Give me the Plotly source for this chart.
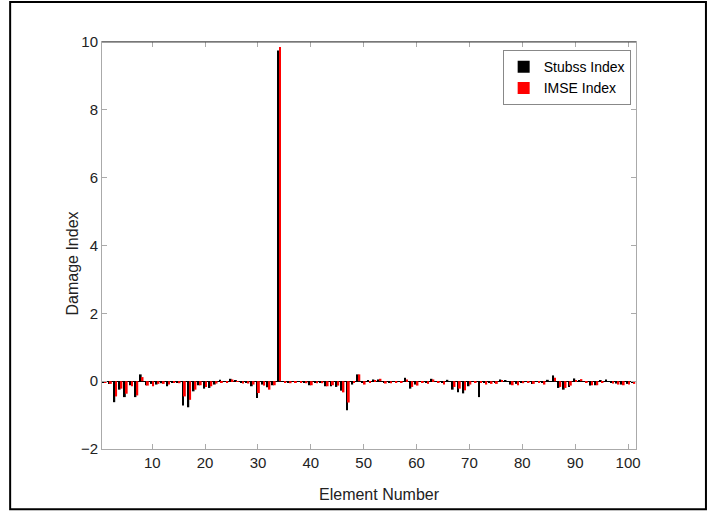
import plotly.graph_objects as go

elements = list(range(1, 102))

stubss = [-0.05, -0.08, -0.62, -0.25, -0.47, -0.12, -0.47, 0.20, -0.12, -0.08,
          -0.10, -0.06, -0.15, -0.05, -0.03, -0.72, -0.77, -0.30, -0.12, -0.22,
          -0.20, -0.10, 0.04, -0.02, 0.07, 0.01, -0.03, -0.05, -0.15, -0.50,
          -0.10, -0.18, -0.12, 9.75, -0.02, -0.03, -0.02, -0.01, -0.03, -0.12,
          -0.04, -0.03, -0.15, -0.15, -0.17, -0.28, -0.86, -0.10, 0.20, -0.03,
          0.02, 0.05, 0.05, -0.03, -0.03, -0.02, -0.01, 0.10, -0.22, -0.10,
          -0.02, -0.03, 0.07, -0.01, -0.03, 0.04, -0.25, -0.33, -0.36, -0.15,
          -0.02, -0.47, -0.04, -0.03, -0.04, 0.05, 0.03, -0.10, -0.08, -0.03,
          -0.02, -0.08, -0.01, -0.05, 0.04, 0.17, -0.20, -0.25, -0.17, 0.08,
          0.02, -0.02, -0.13, -0.12, 0.03, 0.05, -0.04, -0.07, -0.10, -0.08,
          -0.05]

imse = [-0.05, -0.08, -0.45, -0.22, -0.37, -0.15, -0.42, 0.12, -0.13, -0.15,
        -0.08, -0.08, -0.10, -0.05, -0.06, -0.45, -0.55, -0.25, -0.12, -0.17,
        -0.15, -0.07, -0.04, -0.04, 0.05, -0.02, -0.07, -0.07, -0.10, -0.35,
        -0.13, -0.25, -0.12, 9.85, -0.04, -0.06, -0.05, -0.04, -0.06, -0.12,
        -0.06, -0.06, -0.15, -0.12, -0.13, -0.33, -0.63, -0.03, 0.20, -0.10,
        -0.03, 0.03, 0.07, -0.07, -0.06, -0.04, -0.03, 0.05, -0.17, -0.13,
        -0.05, -0.08, 0.05, -0.03, -0.10, 0.00, -0.17, -0.22, -0.27, -0.10,
        -0.04, -0.05, -0.10, -0.08, -0.08, 0.01, 0.00, -0.12, -0.12, -0.06,
        -0.05, -0.08, -0.03, -0.10, 0.00, 0.10, -0.17, -0.20, -0.13, 0.03,
        0.06, -0.05, -0.12, -0.12, -0.05, 0.00, -0.07, -0.10, -0.12, -0.10,
        -0.08]

x_ticks = [10, 20, 30, 40, 50, 60, 70, 80, 90, 100]
y_ticks = [-2, 0, 2, 4, 6, 8, 10]

font_main = "Liberation Sans, Arial"

fig = go.Figure()
fig.add_trace(go.Bar(x=elements, y=stubss, name="Stubss Index",
                     marker=dict(color="black", line_width=0)))
fig.add_trace(go.Bar(x=elements, y=imse, name="IMSE Index",
                     marker=dict(color="red", line_width=0)))

fig.update_layout(
    width=709, height=511,
    margin=dict(l=102, r=73, t=42, b=62, autoexpand=False),
    paper_bgcolor="white", plot_bgcolor="white",
    barmode="group", bargap=0.3, bargroupgap=0,
    font=dict(family=font_main, size=15, color="#222"),
    legend=dict(x=0.99, y=0.98, xanchor="right", yanchor="top",
                bgcolor="white", bordercolor="#888", borderwidth=1,
                font=dict(size=14, family=font_main, color="black"),
                tracegroupgap=0, itemwidth=30),
    showlegend=True,
)

fig.update_xaxes(range=[0.5, 101.5], tickvals=x_ticks, ticks="inside",
                 ticklen=5, tickcolor="#aaa", showline=True, linecolor="#aaa",
                 linewidth=1, mirror="ticks", showgrid=False, zeroline=False,
                 tickfont=dict(family=font_main, size=15))
fig.update_yaxes(range=[-2, 10], tickvals=y_ticks, ticks="inside",
                 ticklen=5, tickcolor="#aaa", showline=True, linecolor="#aaa",
                 linewidth=1, mirror="ticks", showgrid=False,
                 zeroline=True, zerolinecolor="black", zerolinewidth=1,
                 tickfont=dict(family=font_main, size=15))

# axis titles placed where the original has them
fig.add_annotation(text="Element Number", xref="paper", yref="paper",
                   x=0.52, y=-0.113, xanchor="center", yanchor="middle",
                   showarrow=False,
                   font=dict(family=font_main, size=16, color="#222"))
fig.add_annotation(text="Damage Index", xref="paper", yref="paper",
                   x=-0.056, y=0.456, xanchor="center", yanchor="middle",
                   showarrow=False, textangle=-90,
                   font=dict(family=font_main, size=16, color="#222"))

# darker top frame line, as in the original
fig.add_shape(type="line", xref="paper", yref="paper", x0=0, x1=1, y0=1, y1=1,
              line=dict(color="#444", width=1))
# outer border around the whole picture
fig.add_shape(type="rect", xref="paper", yref="paper",
              x0=-0.172, x1=1.131, y0=-0.148, y1=1.0985,
              line=dict(color="black", width=2), layer="above")

fig.write_html("out.html", config={"displayModeBar": False},
               post_script="document.body.style.margin='0';")
